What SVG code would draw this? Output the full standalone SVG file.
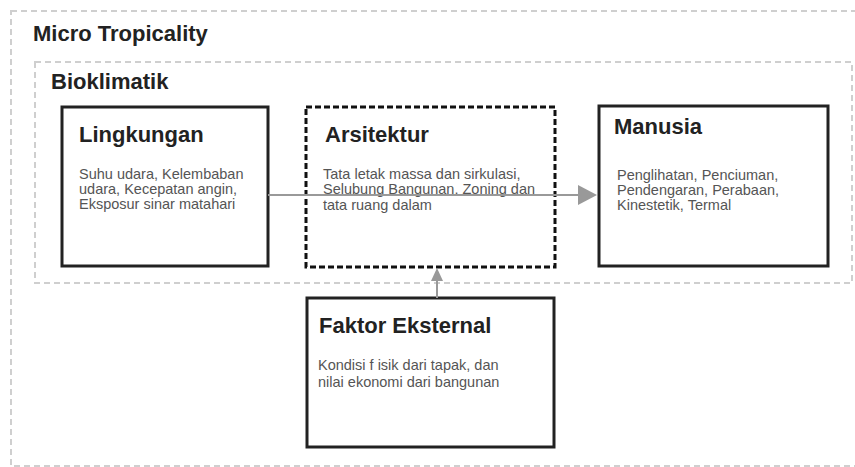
<svg xmlns="http://www.w3.org/2000/svg" width="855" height="467" viewBox="0 0 855 467">
<style>
.frame{fill:none;stroke:#cfcfcf;stroke-width:2;stroke-dasharray:6 4}
.box{fill:#fff;stroke:#222;stroke-width:3}
.dbox{fill:none;stroke:#111;stroke-width:3;stroke-dasharray:6 3}
.h{font-family:"Liberation Sans",Arial,sans-serif;font-weight:bold;font-size:22px;fill:#222}
.t{font-family:"Liberation Sans",Arial,sans-serif;font-size:14.5px;fill:#555}
.c{stroke:#999;stroke-width:2;fill:none}
.ah{fill:#999}
</style>
<rect width="855" height="467" fill="#fff"/>
<g id="micro-tropicality">
<rect class="frame" x="11" y="11" width="852" height="455"/>
<text class="h" x="33" y="41">Micro Tropicality</text>
</g>
<g id="bioklimatik">
<rect class="frame" x="35" y="62" width="817" height="221"/>
<text class="h" x="51" y="89">Bioklimatik</text>
</g>
<g id="lingkungan">
<rect class="box" x="62" y="107" width="206" height="159"/>
<text class="h" x="79" y="142">Lingkungan</text>
<text class="t" x="79" y="179">Suhu udara, Kelembaban</text>
<text class="t" x="79" y="194">udara, Kecepatan angin,</text>
<text class="t" x="79" y="209">Eksposur sinar matahari</text>
</g>
<g id="arsitektur">
<rect class="dbox" x="306" y="107" width="249" height="160"/>
<text class="h" x="325" y="142">Arsitektur</text>
<text class="t" x="323" y="179">Tata letak massa dan sirkulasi,</text>
<text class="t" x="323" y="194">Selubung Bangunan, Zoning dan</text>
<text class="t" x="323" y="210">tata ruang dalam</text>
</g>
<g id="manusia">
<rect class="box" x="599" y="106" width="229" height="160"/>
<text class="h" x="614" y="134">Manusia</text>
<text class="t" x="617" y="180">Penglihatan, Penciuman,</text>
<text class="t" x="617" y="195">Pendengaran, Perabaan,</text>
<text class="t" x="617" y="210">Kinestetik, Termal</text>
</g>
<g id="faktor-eksternal">
<rect class="box" x="307" y="298" width="247" height="149"/>
<text class="h" x="319" y="333">Faktor Eksternal</text>
<text class="t" x="318" y="370">Kondisi f isik dari tapak, dan</text>
<text class="t" x="318" y="387">nilai ekonomi dari bangunan</text>
</g>
<g id="connectors">
<line class="c" x1="268" y1="195" x2="580" y2="195"/>
<polygon class="ah" points="597,195 578,185 578,205"/>
<line class="c" x1="437" y1="298" x2="437" y2="280"/>
<polygon class="ah" points="437,268 431,281 443,281"/>
</g>
</svg>
